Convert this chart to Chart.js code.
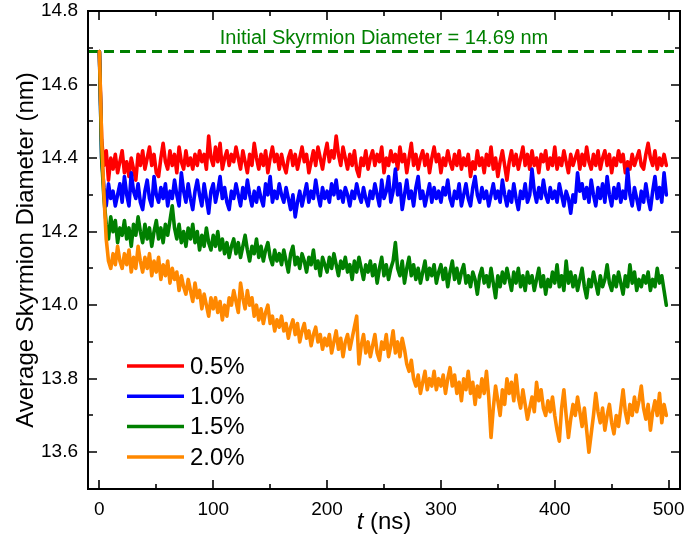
<!DOCTYPE html>
<html><head><meta charset="utf-8">
<script src="https://cdn.jsdelivr.net/npm/chart.js@4"></script>
<style>html,body{margin:0;padding:0;background:#fff}canvas{display:block}</style>
</head><body>
<canvas id="c" width="685" height="538"></canvas>
<script>
// ---- data ----
const timeNs = [
0,2,4,6,8,10,12,14,16,18,
20,22,24,26,28,30,32,34,36,38,
40,42,44,46,48,50,52,54,56,58,
60,62,64,66,68,70,72,74,76,78,
80,82,84,86,88,90,92,94,96,98,
100,102,104,106,108,110,112,114,116,118,
120,122,124,126,128,130,132,134,136,138,
140,142,144,146,148,150,152,154,156,158,
160,162,164,166,168,170,172,174,176,178,
180,182,184,186,188,190,192,194,196,198,
200,202,204,206,208,210,212,214,216,218,
220,222,224,226,228,230,232,234,236,238,
240,242,244,246,248,250,252,254,256,258,
260,262,264,266,268,270,272,274,276,278,
280,282,284,286,288,290,292,294,296,298,
300,302,304,306,308,310,312,314,316,318,
320,322,324,326,328,330,332,334,336,338,
340,342,344,346,348,350,352,354,356,358,
360,362,364,366,368,370,372,374,376,378,
380,382,384,386,388,390,392,394,396,398,
400,402,404,406,408,410,412,414,416,418,
420,422,424,426,428,430,432,434,436,438,
440,442,444,446,448,450,452,454,456,458,
460,462,464,466,468,470,472,474,476,478,
480,482,484,486,488,490,492,494,496,498];

const diam05 = [
14.69,14.45,14.38,14.42,14.34,14.40,14.37,14.41,14.36,14.39,
14.42,14.36,14.39,14.35,14.40,14.37,14.34,14.41,14.38,14.42,
14.37,14.40,14.43,14.38,14.41,14.36,14.35,14.40,14.44,14.39,
14.37,14.42,14.38,14.41,14.36,14.43,14.39,14.37,14.42,14.38,
14.40,14.37,14.41,14.38,14.42,14.39,14.41,14.37,14.46,14.40,
14.38,14.43,14.39,14.44,14.37,14.40,14.42,14.38,14.41,14.39,
14.43,14.40,14.37,14.42,14.39,14.36,14.41,14.38,14.44,14.40,
14.37,14.41,14.38,14.42,14.36,14.40,14.43,14.39,14.41,14.37,
14.41,14.38,14.36,14.40,14.42,14.38,14.41,14.37,14.40,14.43,
14.39,14.41,14.36,14.39,14.42,14.38,14.43,14.40,14.37,14.41,
14.44,14.39,14.42,14.40,14.46,14.41,14.38,14.43,14.40,14.37,
14.41,14.38,14.42,14.37,14.35,14.40,14.38,14.42,14.37,14.40,
14.42,14.38,14.41,14.39,14.43,14.36,14.40,14.38,14.42,14.39,
14.41,14.37,14.43,14.39,14.41,14.36,14.40,14.44,14.38,14.41,
14.37,14.40,14.42,14.38,14.41,14.36,14.40,14.43,14.39,14.41,
14.36,14.40,14.38,14.42,14.39,14.37,14.41,14.38,14.42,14.37,
14.40,14.38,14.41,14.35,14.39,14.37,14.42,14.38,14.40,14.36,
14.41,14.38,14.43,14.37,14.40,14.35,14.39,14.42,14.38,14.34,
14.39,14.42,14.38,14.41,14.37,14.40,14.43,14.38,14.41,14.37,
14.42,14.38,14.40,14.36,14.41,14.39,14.42,14.37,14.40,14.38,
14.43,14.37,14.40,14.38,14.42,14.39,14.36,14.41,14.38,14.40,
14.42,14.37,14.41,14.38,14.43,14.39,14.37,14.41,14.38,14.42,
14.37,14.40,14.42,14.38,14.41,14.36,14.40,14.38,14.42,14.39,
14.41,14.36,14.39,14.37,14.41,14.38,14.40,14.42,14.38,14.37,
14.41,14.44,14.40,14.38,14.42,14.37,14.40,14.38,14.41,14.38];

const diam10 = [
14.69,14.40,14.32,14.27,14.33,14.29,14.31,14.27,14.30,14.33,
14.28,14.35,14.30,14.27,14.36,14.31,14.29,14.33,14.28,14.26,
14.31,14.34,14.29,14.27,14.35,14.30,14.28,14.32,14.29,14.33,
14.27,14.31,14.29,14.34,14.30,14.27,14.36,14.31,14.28,14.33,
14.29,14.26,14.31,14.34,14.30,14.27,14.33,14.29,14.25,14.31,
14.33,14.28,14.31,14.35,14.29,14.32,14.28,14.26,14.31,14.29,
14.33,14.30,14.27,14.32,14.29,14.34,14.30,14.27,14.31,14.28,
14.32,14.29,14.27,14.33,14.30,14.35,14.28,14.31,14.29,14.33,
14.30,14.28,14.32,14.29,14.26,14.30,14.24,14.28,14.31,14.27,
14.30,14.33,14.28,14.31,14.29,14.34,14.30,14.27,14.32,14.29,
14.31,14.28,14.33,14.30,14.34,14.29,14.31,14.28,14.32,14.30,
14.27,14.31,14.29,14.33,14.30,14.28,14.32,14.29,14.27,14.31,
14.29,14.33,14.30,14.27,14.34,14.29,14.31,14.35,14.28,14.31,
14.37,14.30,14.33,14.26,14.30,14.34,14.29,14.31,14.27,14.32,
14.35,14.29,14.31,14.27,14.30,14.33,14.28,14.32,14.29,14.31,
14.28,14.32,14.30,14.34,14.29,14.27,14.31,14.29,14.33,14.27,
14.30,14.33,14.29,14.27,14.32,14.35,14.30,14.28,14.32,14.29,
14.31,14.27,14.30,14.33,14.29,14.31,14.28,14.34,14.30,14.27,
14.31,14.28,14.33,14.29,14.26,14.31,14.29,14.33,14.28,14.30,
14.37,14.31,14.28,14.32,14.29,14.34,14.30,14.28,14.32,14.29,
14.31,14.28,14.33,14.30,14.27,14.31,14.29,14.25,14.30,14.28,
14.36,14.31,14.33,14.29,14.32,14.28,14.34,14.30,14.27,14.32,
14.29,14.33,14.28,14.35,14.30,14.27,14.32,14.29,14.33,14.28,
14.31,14.29,14.37,14.30,14.27,14.32,14.29,14.26,14.31,14.28,
14.33,14.29,14.26,14.31,14.35,14.29,14.32,14.28,14.36,14.30];

const diam15 = [
14.69,14.40,14.29,14.22,14.18,14.24,14.20,14.23,14.17,14.21,
14.19,14.23,14.18,14.21,14.16,14.22,14.19,14.24,14.20,14.17,
14.22,14.18,14.21,14.16,14.20,14.23,14.18,14.21,14.17,14.22,
14.19,14.23,14.27,14.21,14.18,14.22,14.17,14.20,14.16,14.21,
14.18,14.22,14.17,14.20,14.15,14.19,14.16,14.21,14.17,14.15,
14.19,14.16,14.20,14.15,14.18,14.14,14.17,14.13,14.16,14.18,
14.14,14.17,14.13,14.16,14.19,14.15,14.12,14.16,14.14,14.18,
14.13,14.16,14.12,14.15,14.17,14.13,14.11,14.15,14.12,14.14,
14.11,14.15,14.12,14.09,14.14,14.16,14.11,14.13,14.10,14.14,
14.12,14.09,14.13,14.11,14.15,14.10,14.12,14.08,14.13,14.11,
14.09,14.13,14.10,14.14,14.11,14.08,14.12,14.10,14.13,14.09,
14.11,14.07,14.12,14.09,14.13,14.10,14.07,14.11,14.09,14.12,
14.08,14.11,14.06,14.10,14.13,14.08,14.11,14.07,14.10,14.12,
14.17,14.10,14.08,14.12,14.06,14.10,14.13,14.08,14.11,14.07,
14.10,14.06,14.09,14.12,14.07,14.10,14.08,14.11,14.06,14.09,
14.11,14.07,14.10,14.05,14.09,14.12,14.07,14.10,14.06,14.09,
14.11,14.06,14.08,14.05,14.09,14.07,14.03,14.08,14.10,14.06,
14.08,14.05,14.10,14.06,14.02,14.08,14.05,14.09,14.06,14.10,
14.07,14.04,14.09,14.06,14.10,14.05,14.08,14.04,14.09,14.06,
14.08,14.04,14.07,14.10,14.05,14.08,14.03,14.07,14.05,14.09,
14.06,14.11,14.05,14.08,14.04,14.12,14.06,14.09,14.05,14.08,
14.04,14.07,14.10,14.05,14.02,14.07,14.05,14.09,14.06,14.03,
14.08,14.05,14.07,14.11,14.06,14.04,14.08,14.05,14.09,14.06,
14.03,14.08,14.05,14.11,14.06,14.09,14.04,14.07,14.05,14.08,
14.06,14.09,14.04,14.07,14.05,14.10,14.06,14.08,14.04,14.00];

const diam20 = [
14.69,14.45,14.30,14.18,14.12,14.10,14.14,14.11,14.16,14.12,
14.10,14.14,14.11,14.15,14.09,14.13,14.10,14.16,14.12,14.09,
14.13,14.10,14.14,14.08,14.12,14.09,14.13,14.07,14.11,14.08,
14.12,14.06,14.10,14.07,14.09,14.04,14.08,14.05,14.03,14.07,
14.04,14.01,14.06,14.02,14.04,13.99,14.03,14.00,13.97,14.02,
13.99,14.02,13.98,14.01,13.96,14.00,13.97,14.02,14.00,14.04,
14.01,13.98,14.06,14.02,13.99,14.04,14.00,14.02,13.97,14.00,
13.96,13.99,13.95,13.98,14.00,13.95,13.97,13.93,13.96,13.94,
13.97,13.93,13.95,13.91,13.94,13.96,13.92,13.95,13.90,13.93,
13.95,13.91,13.93,13.89,13.92,13.94,13.90,13.92,13.88,13.91,
13.89,13.92,13.87,13.90,13.93,13.88,13.91,13.86,13.90,13.92,
13.88,13.91,13.94,13.97,13.84,13.89,13.92,13.87,13.90,13.86,
13.89,13.92,13.87,13.85,13.90,13.88,13.92,13.86,13.89,13.93,
13.87,13.90,13.86,13.91,13.88,13.84,13.82,13.85,13.80,13.78,
13.81,13.76,13.79,13.82,13.77,13.80,13.78,13.82,13.77,13.80,
13.78,13.81,13.76,13.80,13.83,13.78,13.81,13.76,13.79,13.74,
13.80,13.77,13.82,13.76,13.79,13.73,13.78,13.75,13.80,13.76,
13.82,13.75,13.64,13.72,13.78,13.74,13.70,13.77,13.73,13.80,
13.76,13.79,13.74,13.81,13.75,13.72,13.77,13.73,13.69,13.72,
13.75,13.71,13.79,13.74,13.77,13.72,13.70,13.74,13.71,13.75,
13.70,13.66,13.63,13.72,13.77,13.70,13.64,13.69,13.73,13.70,
13.75,13.71,13.67,13.72,13.66,13.60,13.65,13.70,13.76,13.71,
13.68,13.72,13.66,13.70,13.73,13.68,13.65,13.70,13.67,13.72,
13.77,13.71,13.68,13.73,13.70,13.75,13.71,13.74,13.78,13.72,
13.69,13.73,13.66,13.71,13.74,13.70,13.76,13.68,13.73,13.70];

const seriesLabels = ['0.5%', '1.0%', '1.5%', '2.0%'];
const initialDiameter = 14.69;
const initialLabel = 'Initial Skyrmion Diameter = 14.69 nm';
const xMajorTicks = [0, 100, 200, 300, 400, 500];
const xMinorTicks = [50, 150, 250, 350, 450];
const yMajorTicks = [13.6, 13.8, 14.0, 14.2, 14.4, 14.6, 14.8];
const yMinorTicks = [13.7, 13.9, 14.1, 14.3, 14.5, 14.7];
const xRange = [-10, 510];
const yRange = [13.5, 14.8];

// ---- styles ----
const FONT = '"Liberation Sans", Arial, sans-serif';
const colors = ['#ff0000', '#0000ff', '#008000', '#ff8800'];
const allSeries = [diam05, diam10, diam15, diam20];

const toPts = arr => arr.map((v, i) => ({x: timeNs[i], y: v}));

const datasets = allSeries.map((s, i) => ({
  label: seriesLabels[i],
  data: toPts(s),
  borderColor: colors[i],
  backgroundColor: colors[i],
  borderWidth: 3.6,
  borderJoinStyle: 'round',
  borderCapStyle: 'round',
  pointRadius: 0,
  tension: 0,
  order: 4 - i
}));
datasets.push({
  label: 'initial',
  data: [{x: xRange[0], y: initialDiameter}, {x: xRange[1], y: initialDiameter}],
  borderColor: '#008000',
  borderWidth: 3,
  borderDash: [10, 6],
  pointRadius: 0,
  order: 5
});

const zeroPad = s => { s.paddingTop = 0; s.paddingBottom = 0; s.paddingLeft = 0; s.paddingRight = 0; };

const decorPlugin = {
  id: 'decor',
  afterDraw(chart) {
    const ctx = chart.ctx;
    const a = chart.chartArea;
    const xs = chart.scales.x, ys = chart.scales.y;
    ctx.save();
    ctx.strokeStyle = '#000';
    ctx.lineWidth = 2;
    ctx.strokeRect(a.left, a.top, a.right - a.left, a.bottom - a.top);
    ctx.lineWidth = 1.6;
    const tick = (vals, len, isX) => {
      vals.forEach(v => {
        ctx.beginPath();
        if (isX) {
          const p = Math.round(xs.getPixelForValue(v));
          ctx.moveTo(p, a.bottom); ctx.lineTo(p, a.bottom - len);
          ctx.moveTo(p, a.top); ctx.lineTo(p, a.top + len);
        } else {
          const p = Math.round(ys.getPixelForValue(v));
          ctx.moveTo(a.left, p); ctx.lineTo(a.left + len, p);
          ctx.moveTo(a.right, p); ctx.lineTo(a.right - len, p);
        }
        ctx.stroke();
      });
    };
    tick(xMajorTicks, 9, true);
    tick(xMinorTicks, 5, true);
    tick(yMajorTicks, 9, false);
    tick(yMinorTicks, 5, false);

    // annotation label
    ctx.fillStyle = '#008000';
    ctx.font = '20px ' + FONT;
    ctx.textAlign = 'center';
    ctx.textBaseline = 'middle';
    ctx.fillText(initialLabel, (a.left + a.right) / 2, 38);

    // legend
    ctx.textAlign = 'left';
    ctx.font = '24px ' + FONT;
    seriesLabels.forEach((lab, i) => {
      const y = 366 + i * 30.3;
      ctx.strokeStyle = colors[i];
      ctx.lineWidth = 3.5;
      ctx.beginPath(); ctx.moveTo(127, y); ctx.lineTo(184, y); ctx.stroke();
      ctx.fillStyle = '#000';
      ctx.fillText(lab, 190, y + 1);
    });

    // y title
    ctx.save();
    ctx.translate(26, (a.top + a.bottom) / 2);
    ctx.rotate(-Math.PI / 2);
    ctx.font = '24px ' + FONT;
    ctx.textAlign = 'center';
    ctx.fillStyle = '#000';
    ctx.fillText('Average Skyrmion Diameter (nm)', 0, 0);
    ctx.restore();

    // x title with italic t
    ctx.fillStyle = '#000';
    ctx.textAlign = 'left';
    const fItal = 'italic 24px ' + FONT, fNorm = '24px ' + FONT;
    ctx.font = fItal; const w1 = ctx.measureText('t').width;
    ctx.font = fNorm; const w2 = ctx.measureText(' (ns)').width;
    const x0 = (a.left + a.right) / 2 - (w1 + w2) / 2;
    ctx.font = fItal; ctx.fillText('t', x0, 522);
    ctx.font = fNorm; ctx.fillText(' (ns)', x0 + w1, 522);
    ctx.restore();
  }
};

new Chart(document.getElementById('c'), {
  type: 'line',
  data: { datasets },
  options: {
    responsive: false,
    animation: false,
    devicePixelRatio: 1,
    layout: { padding: { top: 11, right: 5, left: 0, bottom: 0 } },
    plugins: { legend: { display: false }, tooltip: { enabled: false } },
    scales: {
      x: {
        type: 'linear', min: xRange[0], max: xRange[1],
        grid: { display: false, drawTicks: false },
        border: { display: false },
        afterBuildTicks: s => { s.ticks = xMajorTicks.map(v => ({value: v})); },
        ticks: { color: '#000', font: { size: 19, family: FONT }, padding: 9, maxRotation: 0,
                 callback: v => String(v) },
        afterFit: s => { s.height = 49; zeroPad(s); }
      },
      y: {
        type: 'linear', min: yRange[0], max: yRange[1],
        grid: { display: false, drawTicks: false },
        border: { display: false },
        afterBuildTicks: s => { s.ticks = yMajorTicks.map(v => ({value: v})); },
        ticks: { color: '#000', font: { size: 19, family: FONT }, padding: 10,
                 callback: v => Number(v).toFixed(1) },
        afterFit: s => { s.width = 88; zeroPad(s); }
      }
    }
  },
  plugins: [decorPlugin]
});
</script>
</body></html>
